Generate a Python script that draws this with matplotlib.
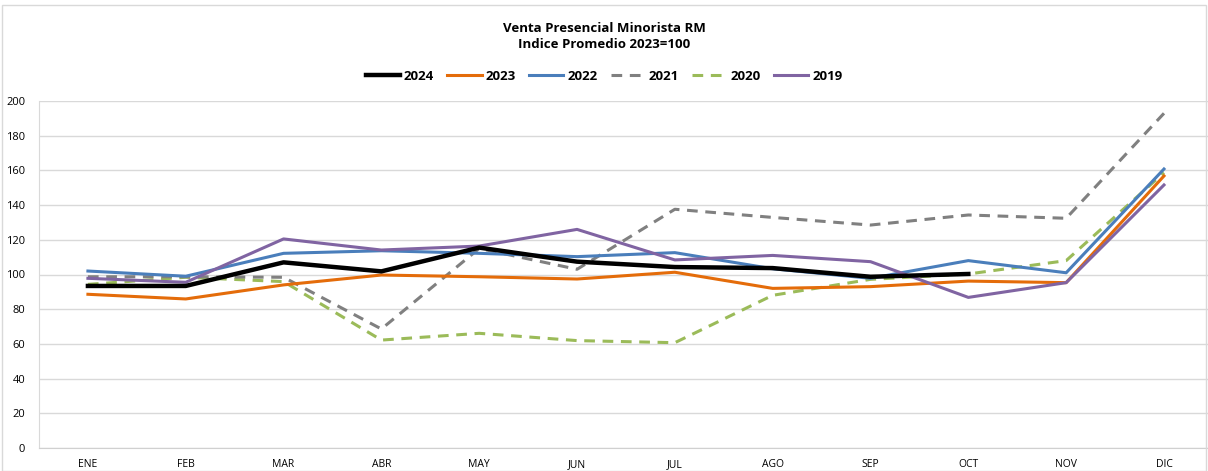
import matplotlib
matplotlib.use("Agg")
import matplotlib.pyplot as plt
from matplotlib import font_manager

months = ["ENE", "FEB", "MAR", "ABR", "MAY", "JUN", "JUL", "AGO", "SEP", "OCT", "NOV", "DIC"]
y2024 = [93.4, 93.4, 107, 101.8, 115.5, 107.4, 104.3, 103.7, 98.7, 100.3]
y2023 = [88.6, 85.9, 94, 99.7, 98.7, 97.4, 101.3, 92, 93, 96.2, 95.3, 156.8]
y2022 = [102, 99, 112.2, 113.7, 112.2, 110.3, 112.6, 103.3, 97.8, 108, 101, 160.8]
y2021 = [98.7, 98.7, 98.4, 68.6, 115, 103, 137.6, 132.9, 128.5, 134.3, 132.4, 192.9]
y2020 = [94.3, 98.4, 95.9, 62.2, 66.1, 61.9, 60.7, 88.0, 97.2, 100.3, 108, 158.7]
y2019 = [97.8, 95.5, 120.5, 114.1, 116.4, 126, 108.4, 111, 107.4, 86.8, 95.3, 151.6]

avail = {f.name for f in font_manager.fontManager.ttflist}
fam = [f for f in ["Liberation Sans Narrow", "Open Sans", "DejaVu Sans"] if f in avail]
plt.rcParams['font.family'] = fam

fig = plt.figure(figsize=(12.08, 4.71), dpi=100)
ax = fig.add_axes([39/1208, 1-448/471, 1-39/1208, (448-101)/471])

x = list(range(len(months)))
ax.plot(x[:len(y2024)], y2024, color="black", lw=3.2, label="2024", zorder=7)
ax.plot(x, y2023, color="#E46C0A", lw=2.2, label="2023", zorder=6)
ax.plot(x, y2022, color="#4A7EBB", lw=2.2, label="2022", zorder=5)
ax.plot(x, y2021, color="#808080", lw=2.2, ls=(0, (3.5, 2.5)), label="2021", zorder=4)
ax.plot(x, y2020, color="#9BBB59", lw=2.2, ls=(0, (3.5, 2.5)), label="2020", zorder=3)
ax.plot(x, y2019, color="#8064A2", lw=2.2, label="2019", zorder=6)

ax.set_ylim(0, 200)
ax.set_xlim(-0.5, 11.45)
ax.set_yticks(range(0, 201, 20))
ax.set_xticks(x)
ax.set_xticklabels(months)
ax.grid(axis="y", color="#d9d9d9", lw=1)
ax.set_axisbelow(True)
for s in ["top", "right"]:
    ax.spines[s].set_visible(False)
ax.spines["left"].set_color("#d9d9d9")
ax.spines["bottom"].set_color("#d0d0d0")
ax.tick_params(axis="both", length=0, colors="#000000")
ax.tick_params(axis="x", pad=8, labelsize=7.5)
ax.tick_params(axis="y", pad=10, labelsize=8)

fig.text(0.5, 1-28/471, "Venta Presencial Minorista RM", ha="center", va="center",
         fontsize=9.5, fontweight="bold")
fig.text(0.5, 1-45/471, "Indice Promedio 2023=100", ha="center", va="center",
         fontsize=9.5, fontweight="bold")
fig.legend(loc="center", bbox_to_anchor=(0.5, 1-76/471), ncol=6, frameon=False,
           prop={"size": 9.5, "weight": "bold"}, handlelength=2.6, columnspacing=1.0,
           handletextpad=0.3)

fig.patches.append(plt.Rectangle((2/1208, 0), 1-4/1208, 1-5/471, transform=fig.transFigure,
                                 fill=False, edgecolor="#d9d9d9", lw=1))
fig.savefig("out.png", dpi=100)
